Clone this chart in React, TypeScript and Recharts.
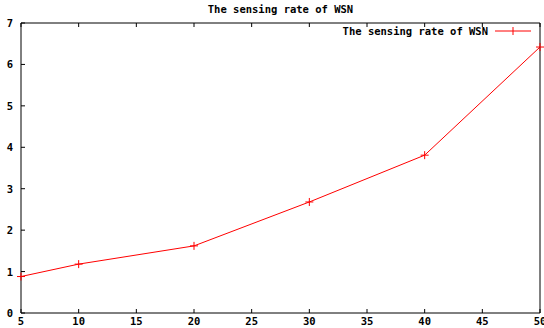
import { LineChart, Line, XAxis, YAxis } from 'recharts';

// values
const nodes = [5, 10, 20, 30, 40, 50];
const sensingRate = [0.88, 1.18, 1.62, 2.68, 3.81, 6.42];
const xTicks = [5, 10, 15, 20, 25, 30, 35, 40, 45, 50];
const yTicks = [0, 1, 2, 3, 4, 5, 6, 7];
const seriesName = 'The sensing rate of WSN';
const title = 'The sensing rate of WSN';

const data = nodes.map((n, i) => ({ n, rate: sensingRate[i] }));

const FONT = '"DejaVu Sans Mono", monospace';
const TICK = 4;

const PlusDot = (props: any) => {
  const { cx, cy } = props;
  if (cx == null || cy == null) return null;
  return (
    <g>
      <line x1={cx - 4} y1={cy} x2={cx + 4} y2={cy} stroke="#ff0000" />
      <line x1={cx} y1={cy - 4} x2={cx} y2={cy + 4} stroke="#ff0000" />
    </g>
  );
};

const BottomTick = (props: any) => {
  const { x, y, payload } = props;
  return (
    <g>
      <line x1={x} y1={y} x2={x} y2={y - TICK} stroke="#000" />
      <text x={x} y={y + 12} textAnchor="middle" fontSize={10.5} fontWeight="bold" fontFamily={FONT} fill="#000">
        {payload.value}
      </text>
    </g>
  );
};

const TopTick = (props: any) => {
  const { x, y } = props;
  return <line x1={x} y1={y} x2={x} y2={y + TICK} stroke="#000" />;
};

const LeftTick = (props: any) => {
  const { x, y, payload } = props;
  return (
    <g>
      <line x1={x} y1={y} x2={x + TICK} y2={y} stroke="#000" />
      <text x={x - 8} y={y + 4} textAnchor="end" fontSize={10.5} fontWeight="bold" fontFamily={FONT} fill="#000">
        {payload.value}
      </text>
    </g>
  );
};

const RightTick = (props: any) => {
  const { x, y } = props;
  return <line x1={x} y1={y} x2={x - TICK} y2={y} stroke="#000" />;
};

const textStyle = { fontFamily: FONT, fontSize: 10.5, fontWeight: 'bold' as const, color: '#000' };

export default function App() {
  return (
    <div style={{ position: 'absolute', left: 0, top: 0, width: 544, height: 328, background: '#fff' }}>
      <div style={{ ...textStyle, position: 'absolute', left: 21, width: 519, top: 3, textAlign: 'center' }}>
        {title}
      </div>
      <LineChart width={544} height={328} data={data} margin={{ top: 22, right: 3, left: 0, bottom: 0 }}>
        <XAxis
          dataKey="n" type="number" domain={[5, 50]} ticks={xTicks} height={15}
          tickSize={0} tickMargin={0} tickLine={false} stroke="#000" tick={<BottomTick />} interval={0}
        />
        <XAxis
          xAxisId="top" orientation="top" dataKey="n" type="number" domain={[5, 50]} ticks={xTicks} height={1}
          tickSize={0} tickMargin={0} tickLine={false} stroke="#000" tick={<TopTick />} interval={0}
        />
        <YAxis
          type="number" domain={[0, 7]} ticks={yTicks} width={21}
          tickSize={0} tickMargin={0} tickLine={false} stroke="#000" tick={<LeftTick />} interval={0}
        />
        <YAxis
          yAxisId="right" orientation="right" type="number" domain={[0, 7]} ticks={yTicks} width={1}
          tickSize={0} tickMargin={0} tickLine={false} stroke="#000" tick={<RightTick />} interval={0}
        />
        <Line
          type="linear" dataKey="rate" name={seriesName} stroke="#ff0000" strokeWidth={1}
          dot={<PlusDot />} activeDot={false} isAnimationActive={false}
        />
      </LineChart>
      <div style={{ ...textStyle, position: 'absolute', right: 12, top: 25, display: 'flex', alignItems: 'center' }}>
        <span>{seriesName}</span>
        <svg width={38} height={10} style={{ marginLeft: 6 }}>
          <line x1={1} y1={5} x2={37} y2={5} stroke="#ff0000" />
          <line x1={19} y1={1} x2={19} y2={9} stroke="#ff0000" />
        </svg>
      </div>
    </div>
  );
}
